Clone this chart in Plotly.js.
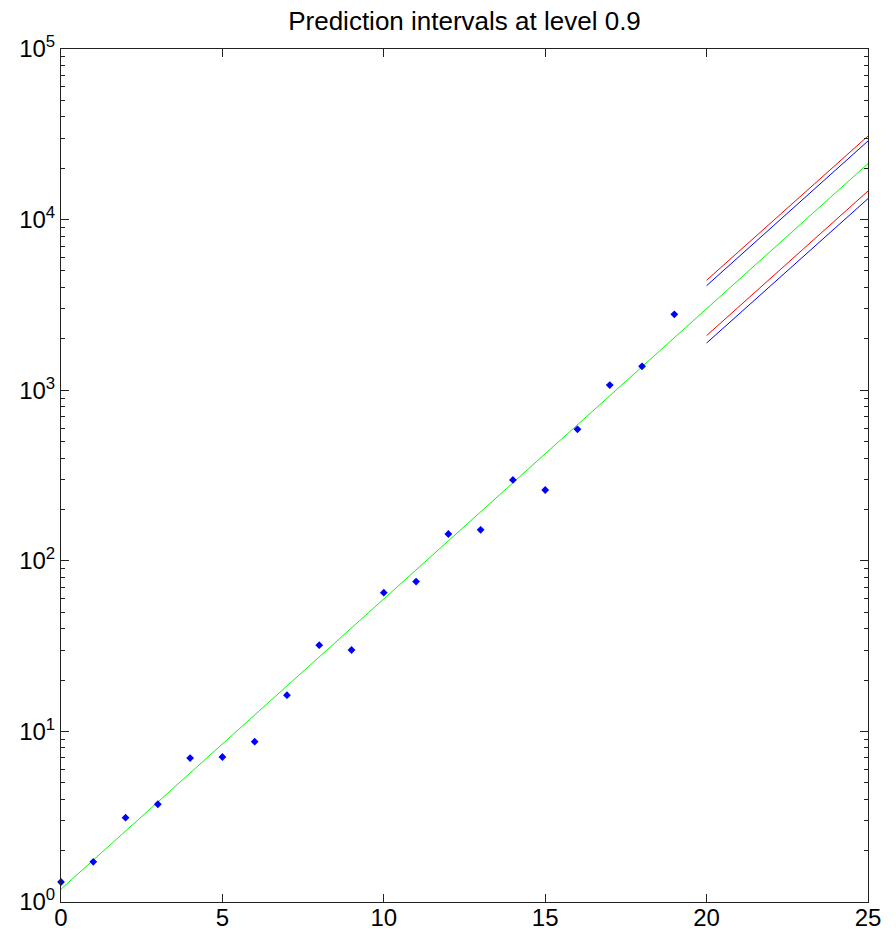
<!DOCTYPE html>
<html>
<head>
<meta charset="utf-8">
<script src="https://cdn.plot.ly/plotly-3.0.1.min.js"></script>
<style>html,body{margin:0;padding:0;background:#fff;}#chart{width:896px;height:932px;}</style>
</head>
<body>
<div id="chart"></div>
<script>
// observed data
var xData = [0, 1, 2, 3, 4, 5, 6, 7, 8, 9, 10, 11, 12, 13, 14, 15, 16, 17, 18, 19];
var yData = [1.31, 1.72, 3.12, 3.74, 6.98, 7.08, 8.7, 16.3, 32.0, 30.0, 65.0, 75.5, 143.6, 152, 297.7, 260, 590, 1072, 1380, 2786];
// fitted line
var fitX = [0, 25];
var fitY = [1.19, 21300];
// prediction intervals
var predX = [20, 25];
var upperRed = [4410, 30900];
var upperBlue = [4100, 28900];
var lowerRed = [2090, 14700];
var lowerBlue = [1890, 13270];
// ticks
var xTickVals = [0, 5, 10, 15, 20, 25];
var xTickText = ['0', '5', '10', '15', '20', '25'];
var yTickVals = [1, 10, 100, 1000, 10000, 100000];
var yTickText = ['10<sup>0</sup>', '10<sup>1</sup>', '10<sup>2</sup>', '10<sup>3</sup>', '10<sup>4</sup>', '10<sup>5</sup>'];
var yMinorMult = [2, 3, 4, 5, 6, 7, 8, 9];
var yDecades = [1, 10, 100, 1000, 10000];

var yMinorVals = [];
yDecades.forEach(function (d) { yMinorMult.forEach(function (m) { yMinorVals.push(d * m); }); });

var FONT = 'Liberation Sans, Arial, Helvetica, sans-serif';

var traces = [
  {x: fitX, y: fitY, mode: 'lines', line: {color: 'rgb(0,255,0)', width: 1}, hoverinfo: 'skip'},
  {x: predX, y: upperRed, mode: 'lines', line: {color: 'rgb(255,0,0)', width: 1}},
  {x: predX, y: lowerRed, mode: 'lines', line: {color: 'rgb(255,0,0)', width: 1}},
  {x: predX, y: upperBlue, mode: 'lines', line: {color: 'rgb(0,0,255)', width: 1}},
  {x: predX, y: lowerBlue, mode: 'lines', line: {color: 'rgb(0,0,255)', width: 1}},
  {x: xData, y: yData, mode: 'markers', cliponaxis: false,
   marker: {symbol: 'diamond', size: 6, color: 'rgb(0,0,255)'}}
];

var layout = {
  width: 896, height: 932,
  margin: {l: 61, r: 28, t: 49, b: 30, pad: 0},
  paper_bgcolor: '#fff', plot_bgcolor: '#fff',
  showlegend: false,
  font: {family: FONT, color: '#000', size: 24},
  title: {text: 'Prediction intervals at level 0.9', font: {family: FONT, size: 26, color: '#000'},
          x: 0.5, xref: 'paper', xanchor: 'center', y: 1 - 21 / 932, yref: 'container', yanchor: 'middle'},
  xaxis: {
    range: [0, 25], showgrid: false, zeroline: false,
    showline: true, linecolor: '#222', linewidth: 1, mirror: 'ticks',
    ticks: 'inside', ticklen: 8, tickcolor: '#222', tickwidth: 1,
    tickmode: 'array', tickvals: xTickVals, ticktext: xTickText,
    ticklabelstandoff: -6,
    tickfont: {family: FONT, size: 24, color: '#000'}
  },
  yaxis: {
    type: 'log', range: [0, 5], showgrid: false, zeroline: false,
    showline: true, linecolor: '#222', linewidth: 1, mirror: 'ticks',
    ticks: 'inside', ticklen: 8, tickcolor: '#222', tickwidth: 1,
    tickmode: 'array', tickvals: yTickVals, ticktext: yTickText,
    tickfont: {family: FONT, size: 24, color: '#000'},
    minor: {tickmode: 'array', tickvals: yMinorVals, ticks: 'inside', ticklen: 4, tickcolor: '#222', tickwidth: 1, showgrid: false}
  }
};

Plotly.newPlot('chart', traces, layout, {staticPlot: true, displayModeBar: false});
</script>
</body>
</html>
